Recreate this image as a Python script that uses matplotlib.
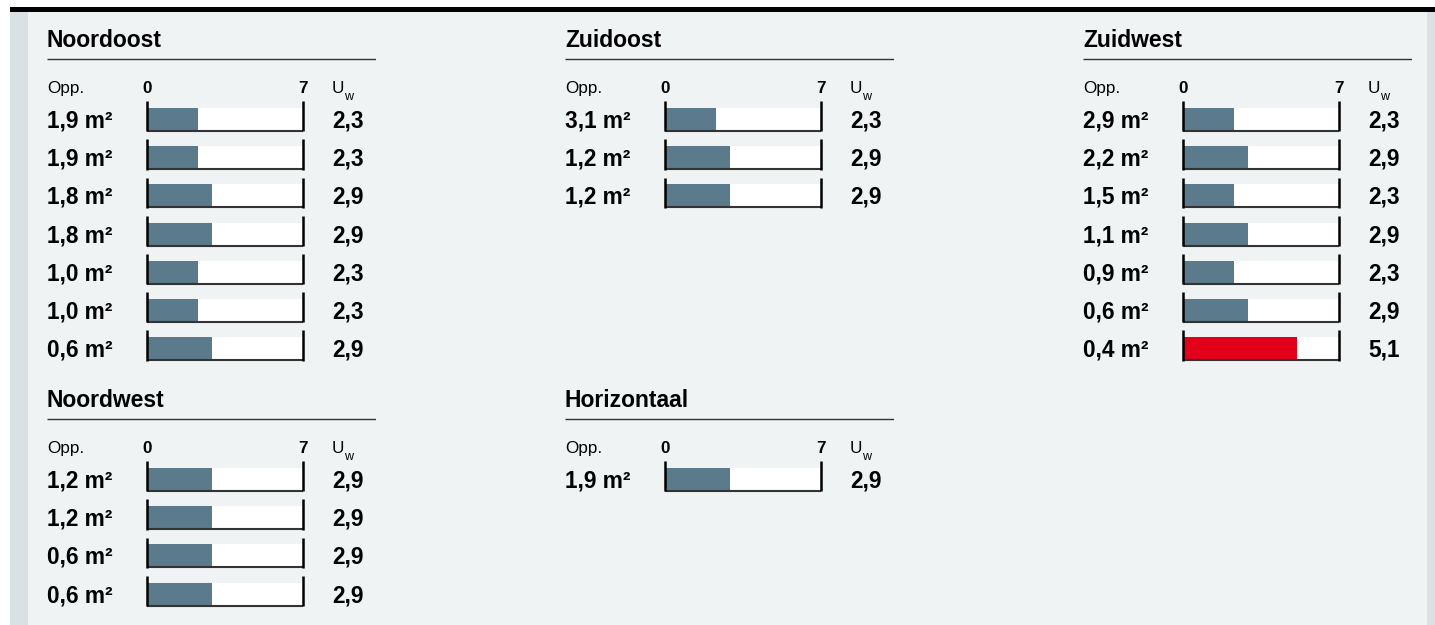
import matplotlib
matplotlib.use("Agg")
import matplotlib.pyplot as plt
from matplotlib.patches import Rectangle

plt.rcParams['font.family'] = ['Liberation Sans', 'DejaVu Sans']

# window areas (m2) and U_w values per facade
noordoost_opp = [1.9, 1.9, 1.8, 1.8, 1.0, 1.0, 0.6]
noordoost_uw = [2.3, 2.3, 2.9, 2.9, 2.3, 2.3, 2.9]
zuidoost_opp = [3.1, 1.2, 1.2]
zuidoost_uw = [2.3, 2.9, 2.9]
zuidwest_opp = [2.9, 2.2, 1.5, 1.1, 0.9, 0.6, 0.4]
zuidwest_uw = [2.3, 2.9, 2.3, 2.9, 2.3, 2.9, 5.1]
noordwest_opp = [1.2, 1.2, 0.6, 0.6]
noordwest_uw = [2.9, 2.9, 2.9, 2.9]
horizontaal_opp = [1.9]
horizontaal_uw = [2.9]

SCALE_MAX = 7
U_LIMIT = 5.0

BAR_COL = '#5b7a8b'
RED = '#e3001b'
BG = '#eff3f4'
STRIP = '#d9e1e5'

W, H = 1435, 625
PX_PER_UNIT = 156 / SCALE_MAX   # bar scale: 0..7 over 156 px
PITCH = 38.2                    # row pitch in px


def fmt(v):
    return f'{v:.1f}'.replace('.', ',')


def panel(fig, title, opp, uw, x0, row0):
    # x0: px of left text edge, row0: px of first row centre
    left, right = x0, x0 + 329
    bar0 = x0 + 100
    top, bottom = row0 - 101, min(row0 + PITCH * len(opp), H)
    ax = fig.add_axes([left / W, 1 - bottom / H, (right - left) / W, (bottom - top) / H])
    ax.set_xlim((left - bar0) / PX_PER_UNIT, (right - bar0) / PX_PER_UNIT)
    ax.set_ylim((bottom - row0) / PITCH, (top - row0) / PITCH)
    ax.set_facecolor('none')
    ax.axis('off')

    xl = (left - bar0) / PX_PER_UNIT
    xr = (right - bar0) / PX_PER_UNIT
    xv = (x0 + 285 - bar0) / PX_PER_UNIT

    ax.text(xl, -2.12, title, fontsize=16.5, fontweight='bold', va='center', ha='left')
    ax.plot([xl, xr], [-1.62, -1.62], color='#333333', lw=1.0, solid_capstyle='butt')

    ax.text(xl, -0.86, 'Opp.', fontsize=12.3, va='center', ha='left')
    ax.text(0, -0.86, '0', fontsize=12.3, fontweight='bold', va='center', ha='center')
    ax.text(SCALE_MAX, -0.86, '7', fontsize=12.3, fontweight='bold', va='center', ha='center')
    ax.text(xv, -0.86, 'U', fontsize=12.3, va='center', ha='left')
    ax.text(xv + 12.5 / PX_PER_UNIT, -0.64, 'w', fontsize=9, va='center', ha='left')

    rows = list(range(len(opp)))
    colors = [RED if u > U_LIMIT else BAR_COL for u in uw]
    ax.barh([r - 0.05 for r in rows], [SCALE_MAX] * len(rows), height=0.58,
            left=0, color='white', zorder=1)
    ax.barh([r - 0.05 for r in rows], uw, height=0.58, left=0, color=colors, zorder=2)
    for r in rows:
        ax.plot([0, SCALE_MAX], [r + 0.26, r + 0.26], color='#333333', lw=1.5,
                solid_capstyle='butt', zorder=3)
        ax.plot([0, 0], [r - 0.52, r + 0.27], color='black', lw=1.8,
                solid_capstyle='butt', zorder=3)
        ax.plot([SCALE_MAX, SCALE_MAX], [r - 0.52, r + 0.27], color='black', lw=1.8,
                solid_capstyle='butt', zorder=3)
    for r, a, u in zip(rows, opp, uw):
        ax.text(xl, r, f'{fmt(a)} m²', fontsize=16.3, fontweight='bold', va='center', ha='left')
        ax.text(xv, r, fmt(u), fontsize=16.3, fontweight='bold', va='center', ha='left')
    return ax


fig = plt.figure(figsize=(W / 100, H / 100), dpi=100)
fig.patch.set_facecolor('white')

bg = fig.add_axes([0, 0, 1, 1])
bg.set_xlim(0, W)
bg.set_ylim(H, 0)
bg.axis('off')
bg.add_patch(Rectangle((28, 12), 1399, H - 12, color=BG, lw=0))
bg.add_patch(Rectangle((10, 12), 18, H - 12, color=STRIP, lw=0))
bg.add_patch(Rectangle((1427, 12), 8, H - 12, color=STRIP, lw=0))
bg.add_patch(Rectangle((10, 7), W - 10, 5, color='black', lw=0))

panel(fig, 'Noordoost', noordoost_opp, noordoost_uw, 47, 121)
panel(fig, 'Zuidoost', zuidoost_opp, zuidoost_uw, 565, 121)
panel(fig, 'Zuidwest', zuidwest_opp, zuidwest_uw, 1083, 121)
panel(fig, 'Noordwest', noordwest_opp, noordwest_uw, 47, 481)
panel(fig, 'Horizontaal', horizontaal_opp, horizontaal_uw, 565, 481)

fig.savefig('out.png', dpi=100, facecolor=fig.get_facecolor())
